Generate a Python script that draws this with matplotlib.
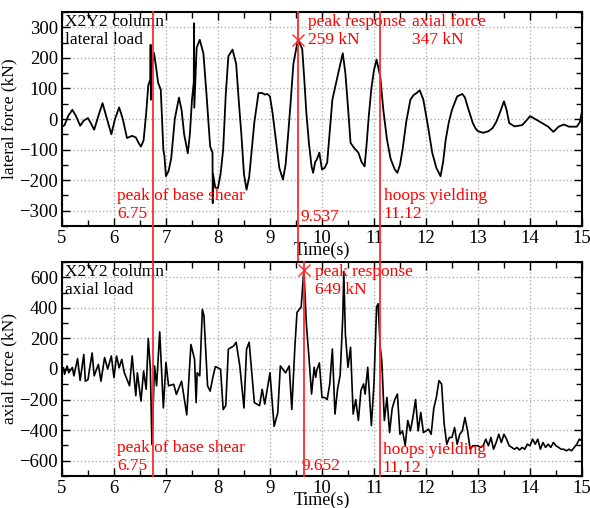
#!/usr/bin/env python3
import matplotlib.pyplot as plt
from matplotlib.ticker import MultipleLocator

plt.rcParams["font.family"] = ["Liberation Serif", "DejaVu Serif"]

# lateral load (top panel)
LAT_T = [5.0, 5.05, 5.12, 5.2, 5.27, 5.35, 5.42, 5.5, 5.56, 5.62, 5.7, 5.78,
         5.85, 5.95, 6.02, 6.1, 6.17, 6.25, 6.35, 6.42, 6.48, 6.52, 6.57, 6.62,
         6.66, 6.7, 6.705, 6.71, 6.72, 6.77, 6.81, 6.85, 6.9, 6.95, 6.97, 7.0,
         7.05, 7.1, 7.17, 7.25, 7.3, 7.35, 7.42, 7.46, 7.5, 7.535, 7.54, 7.545,
         7.59, 7.65, 7.72, 7.78, 7.85, 7.895, 7.9, 7.905, 7.95, 8.0, 8.05, 8.1,
         8.15, 8.2, 8.28, 8.35, 8.4, 8.45, 8.5, 8.55, 8.6, 8.65, 8.7, 8.78,
         8.85, 8.9, 8.95, 9.0, 9.05, 9.1, 9.18, 9.25, 9.3, 9.35, 9.4, 9.45,
         9.537, 9.6, 9.62, 9.66, 9.7, 9.75, 9.8, 9.83, 9.87, 9.9, 9.95, 10.0,
         10.05, 10.1, 10.15, 10.2, 10.3, 10.4, 10.45, 10.5, 10.55, 10.62, 10.7,
         10.76, 10.82, 10.86, 10.9, 10.95, 11.0, 11.05, 11.12, 11.18, 11.25,
         11.32, 11.4, 11.45, 11.5, 11.55, 11.62, 11.7, 11.76, 11.82, 11.88,
         11.95, 12.0, 12.05, 12.12, 12.2, 12.28, 12.33, 12.38, 12.44, 12.5,
         12.6, 12.7, 12.75, 12.8, 12.9, 12.95, 13.0, 13.1, 13.2, 13.28, 13.35,
         13.42, 13.5, 13.55, 13.6, 13.7, 13.85, 13.93, 14.0, 14.05, 14.2, 14.35,
         14.45, 14.55, 14.65, 14.75, 14.9, 14.96, 15.0]
LAT_V = [-25, -20, 10, 30, 10, -22, -5, 3, -15, -35, 10, 52,
         10, -50, 0, 38, 0, -62, -55, -60, -80, -90, -70, 20,
         110, 130, 243, 63, 150, 216, 170, 118, 96, -100, -120, -187,
         -170, -130, 0, 70, 30, -50, -112, -50, 63, 120, 313, 37,
         233, 259, 215, 80, -90, -110, -275, -180, -225, -225, -180, -100,
         80, 205, 227, 180, 60, -50, -180, -231, -190, -100, -10, 85,
         85, 80, 82, 74, 20, -50, -160, -198, -150, -50, 60, 180,
         259, 237, 230, 130, 20, -80, -155, -176, -140, -133, -110, -165,
         -160, -143, -40, 63, 140, 215, 150, 40, -78, -95, -110,
         -140, -155, -80, 9, 100, 160, 194, 140, 30, -67,
         -130, -165, -176, -150, -100, -10, 63, 78, 85, 94,
         63, 15, -35, -110, -160, -187, -140, -67, -10, 30,
         74, 82, 70, 41, -13, -30, -40, -45, -40, -30, -10,
         20, 58, 30, -13, -24, -20, -5, 9, 5, -10, -25,
         -42, -25, -18, -25, -25, -10, 25]

# axial load (bottom panel)
AX_T = [5.0, 5.03, 5.05, 5.1, 5.13, 5.2, 5.23, 5.3, 5.35, 5.42, 5.45, 5.5,
        5.58, 5.62, 5.7, 5.75, 5.82, 5.88, 5.95, 6.0, 6.05, 6.1, 6.15, 6.2,
        6.3, 6.35, 6.42, 6.45, 6.52, 6.57, 6.62, 6.66, 6.7, 6.73, 6.78, 6.82,
        6.88, 6.95, 7.0, 7.05, 7.15, 7.2, 7.3, 7.4, 7.48, 7.55, 7.58, 7.6,
        7.65, 7.7, 7.73, 7.8, 7.85, 7.9, 7.95, 8.0, 8.05, 8.1, 8.15, 8.2,
        8.3, 8.35, 8.42, 8.5, 8.55, 8.6, 8.7, 8.8, 8.85, 8.9, 9.0, 9.08,
        9.15, 9.2, 9.3, 9.37, 9.42, 9.48, 9.52, 9.55, 9.6, 9.652, 9.7, 9.75,
        9.8, 9.85, 9.88, 9.9, 9.95, 10.0, 10.05, 10.1, 10.15, 10.2, 10.25, 10.3,
        10.35, 10.4, 10.42, 10.45, 10.5, 10.55, 10.6, 10.65, 10.7, 10.75, 10.8,
        10.83, 10.88, 10.95, 11.0, 11.05, 11.08, 11.12, 11.15, 11.2, 11.25,
        11.3, 11.35, 11.4, 11.45, 11.5, 11.55, 11.6, 11.65, 11.7, 11.75, 11.8,
        11.85, 11.9, 11.95, 12.0, 12.05, 12.1, 12.15, 12.2, 12.25, 12.3, 12.35,
        12.4, 12.45, 12.5, 12.55, 12.6, 12.65, 12.7, 12.75, 12.8, 12.85, 12.9,
        13.0, 13.05, 13.1, 13.15, 13.2, 13.25, 13.3, 13.35, 13.4, 13.45, 13.5,
        13.55, 13.6, 13.65, 13.7, 13.75, 13.8, 13.85, 13.9, 13.95, 14.0, 14.05,
        14.1, 14.15, 14.2, 14.25, 14.3, 14.35, 14.4, 14.45, 14.5, 14.55, 14.6,
        14.65, 14.7, 14.75, 14.8, 14.85, 14.9, 14.95, 15.0]
AX_V = [0, 8, -35, 20, -25, 10, -45, 68, -75, 95, -80, -70,
        105, -45, 30, -80, 75, 0, 85, -57, 85, 8, 63, -25,
        -110, 85, -175, -25, -210, -13, -133, 200, 0, -495, 20, -110,
        243, -255, 42, -110, -100, -166, -80, -300, 160, 63, -220, -25,
        -45, 390, 350, -110, -145, -57, 15, 8, -2, -265, -240, 130,
        150, 175, 20, -255, 130, 175, -220, -240, -133, -230, -25, -375,
        -287, 20, -25, 20, -265, 150, 370, 383, 405, 649, 295, 77,
        -164, 11, -55, -9, 40, -186, -186, -200, -98, 131, -295, -131,
        -41, 339, 635, 230, 11, 142, -295, -200, -337, -140, -98,
        -164, 11, -370, -98, 405, 427, 142, 57, -337, -186,
        -416, -258, -200, -164, -427, -405, -500, -337, -405, -315, -200,
        -405, -284, -416, -405, -394, -427, -258, -186, -76, -98, -360,
        -492, -448, -448, -383, -492, -427, -405, -317, -405, -525, -502,
        -502, -513, -502, -459, -502, -448, -525, -481, -427, -481, -427,
        -459, -502, -513, -525, -513, -530, -513, -525, -492, -502, -459,
        -492, -459, -525, -481, -513, -492, -513, -481, -502, -513, -525,
        -525, -535, -525, -535, -513, -492, -459, -470]

BASE_SHEAR_T = 6.75
HOOPS_T = 11.12
LAT_PEAK = (9.537, 259)
AX_PEAK = (9.652, 649)

RED = "#ff2a2a"


def style_axes(ax, ylim, ymajor, yminor):
    ax.set_xlim(5, 15)
    ax.set_ylim(*ylim)
    ax.xaxis.set_major_locator(MultipleLocator(1))
    ax.xaxis.set_minor_locator(MultipleLocator(0.5))
    ax.yaxis.set_major_locator(MultipleLocator(ymajor))
    ax.yaxis.set_minor_locator(MultipleLocator(yminor))
    ax.tick_params(which="both", direction="in", top=True, right=True, labelsize=13.5)
    ax.tick_params(which="major", length=6, width=1, pad=3)
    ax.tick_params(which="minor", length=4, width=1)
    ax.grid(which="major", linestyle=":", color="#b0b0b0", linewidth=1.0)
    ax.set_axisbelow(True)
    for spine in ax.spines.values():
        spine.set_linewidth(1.5)
    ax.set_xlabel("Time(s)", fontsize=13, labelpad=-4)
    ax.yaxis.set_label_coords(-0.085, 0.5)


def main():
    fig = plt.figure(figsize=(5.9, 5.08), dpi=100)
    ax1 = fig.add_axes([0.105, 0.555, 0.8814, 0.4214])
    ax2 = fig.add_axes([0.105, 0.063, 0.8814, 0.4213])

    # top panel
    style_axes(ax1, (-350, 350), 100, 50)
    ax1.plot(LAT_T, LAT_V, color="black", linewidth=1.3, zorder=3)
    for t in (BASE_SHEAR_T, LAT_PEAK[0], HOOPS_T):
        ax1.plot([t, t], [-470, 350], color=RED, linewidth=1.3, clip_on=False, zorder=4)
    ax1.plot(*LAT_PEAK, marker="x", color=RED, markersize=9, mew=1.0, zorder=5)
    ax1.set_ylabel("lateral force (kN)", fontsize=12.5)
    ax1.text(5.06, 345, "X2Y2 column\nlateral load", fontsize=12.5, va="top", ha="left")
    ax1.text(6.06, -225, "peak of base shear\n6.75", color="red", fontsize=12.5, va="top")
    ax1.text(9.58, -345, "9.537", color="red", fontsize=12.5, va="bottom")
    ax1.text(11.19, -225, "hoops yielding\n11.12", color="red", fontsize=12.5, va="top")
    ax1.text(9.73, 345, "peak response\n259 kN", color="red", fontsize=12.5, va="top")
    ax1.text(11.73, 345, "axial force\n347 kN", color="red", fontsize=12.5, va="top")

    # bottom panel
    style_axes(ax2, (-700, 700), 200, 100)
    ax2.plot(AX_T, AX_V, color="black", linewidth=1.2, zorder=3)
    for t in (BASE_SHEAR_T, AX_PEAK[0], HOOPS_T):
        ax2.plot([t, t], [-700, 700], color=RED, linewidth=1.3, clip_on=False, zorder=4)
    ax2.plot(*AX_PEAK, marker="x", color=RED, markersize=9, mew=1.0, zorder=5)
    ax2.set_ylabel("axial force (kN)", fontsize=12.5)
    ax2.text(5.06, 690, "X2Y2 column\naxial load", fontsize=12.5, va="top", ha="left")
    ax2.text(6.06, -465, "peak of base shear\n6.75", color="red", fontsize=12.5, va="top")
    ax2.text(9.6, -690, "9.652", color="red", fontsize=12.5, va="bottom")
    ax2.text(11.17, -475, "hoops yielding\n11.12", color="red", fontsize=12.5, va="top")
    ax2.text(9.87, 690, "peak response\n649 kN", color="red", fontsize=12.5, va="top")

    fig.savefig("out.png", dpi=100)
    plt.close(fig)


if __name__ == "__main__":
    main()
